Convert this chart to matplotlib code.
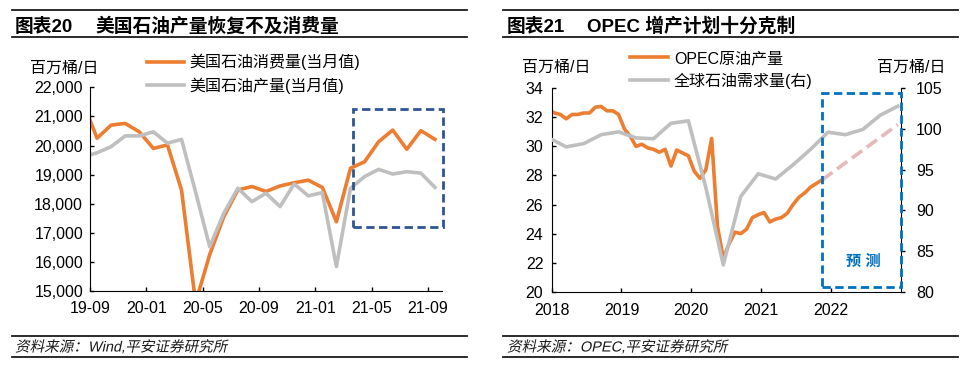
import matplotlib
matplotlib.use('Agg')
import matplotlib.pyplot as plt
import matplotlib.transforms as mtransforms
from matplotlib.lines import Line2D
from matplotlib.patches import Rectangle, PathPatch
from matplotlib.textpath import TextPath
from matplotlib.font_manager import FontProperties
from matplotlib.ticker import FuncFormatter
import numpy as np
import pandas as pd

plt.rcParams['font.family'] = ['Liberation Sans', 'Noto Sans CJK SC']

# ---- 图表20 数据 (月度, 2019-08 ~ 2021-09) ----
us_start, us_end = '2019-08', '2021-09'
us_consumption = [21500, 20250, 20700, 20760, 20470, 19900, 20020, 18470, 14600, 16250,
                  17550, 18470, 18590, 18420, 18610, 18720, 18810, 18560, 17380, 19220,
                  19440, 20130, 20530, 19870, 20510, 20210]
us_production = [19600, 19750, 19960, 20330, 20330, 20470, 20080, 20210, 18400, 16520,
                 17670, 18530, 18070, 18360, 17900, 18680, 18270, 18380, 15840, 18530,
                 18930, 19180, 19020, 19100, 19050, 18560]
us_tick_labels = ['19-09', '20-01', '20-05', '20-09', '21-01', '21-05', '21-09']

# ---- 图表21 数据 ----
opec_start, opec_end = '2017-12', '2021-11'
opec_prod = [32.5, 32.3, 32.2, 31.9, 32.2, 32.2, 32.3, 32.3, 32.7, 32.75, 32.45, 32.45, 32.2,
             31.2, 30.7, 30.0, 30.15, 29.9, 29.8, 29.6, 29.8, 28.65, 29.75, 29.55, 29.35,
             28.3, 27.8, 28.4, 30.55, 24.5, 22.3, 23.3, 24.1, 24.0, 24.3, 25.1, 25.3,
             25.45, 24.8, 25.0, 25.1, 25.4, 26.0, 26.5, 26.8, 27.2, 27.45, 27.7]
opec_fc_months = ['2021-11', '2022-12']
opec_fc = [27.7, 31.5]
demand_start, demand_end = '2017Q4', '2022Q4'
world_demand = [98.9, 97.8, 98.2, 99.3, 99.65, 98.9, 98.8, 100.7, 101.0, 92.8, 83.3,
                91.7, 94.5, 93.85, 95.6, 97.5, 99.6, 99.3, 99.95, 101.7, 102.8]
year_labels = ['2018', '2019', '2020', '2021', '2022']

ORANGE = '#ED7D31'
GRAY = '#BFBFBF'
PINK = '#E6B9B8'
W, H = 970, 366


def fx(px):
    return px / W


def fy(py):
    return 1 - py / H


def mpos(p, y0):
    # 月中位置, 以 y0 年1月初为 0
    return (p.year - y0) * 12 + p.month - 1 + 0.5


def slanted_text(fig, x_px, base_px, s, size_pt):
    # 中文字体没有斜体, 用剪切变换画成斜体
    prop = FontProperties(family=['Liberation Sans', 'Noto Sans CJK SC'])
    path = TextPath((0, 0), s, size=size_pt * fig.dpi / 72, prop=prop)
    tr = mtransforms.Affine2D().skew_deg(12, 0).translate(x_px, H - base_px)
    fig.add_artist(PathPatch(path, transform=tr, fc='#1a1a1a', ec='none', lw=0))


fig = plt.figure(figsize=(9.7, 3.66), dpi=100)

# ================= 左图 =================
ax1 = fig.add_axes([fx(90), fy(291), fx(442) - fx(90), fy(87.3) - fy(291)])
us_x = np.arange(len(us_consumption)) - 0.5  # 2019-09 -> 0.5
ax1.plot(us_x, us_consumption, color=ORANGE, lw=2.6, label='美国石油消费量(当月值)')
ax1.plot(us_x, us_production, color=GRAY, lw=2.6, label='美国石油产量(当月值)')
ax1.set_xlim(0, 25)
ax1.set_ylim(15000, 22000)
ax1.set_yticks(range(15000, 22001, 1000))
ax1.yaxis.set_major_formatter(FuncFormatter(lambda v, _: f'{v:,.0f}'))
ax1.set_xticks(range(0, 25, 4))
ax1.set_xticklabels(us_tick_labels)
off = mtransforms.ScaledTranslation(4 / 100, 0, fig.dpi_scale_trans)
for lbl in ax1.get_xticklabels():
    lbl.set_transform(lbl.get_transform() + off)
for s in ['top', 'right']:
    ax1.spines[s].set_visible(False)
ax1.tick_params(direction='in', length=3, width=1, labelsize=11.5, pad=5)
ax1.tick_params(axis='x', pad=7)
ax1.add_patch(Rectangle((18.7, 17200), 25.07 - 18.7, 21250 - 17200, fill=False,
                        ec='#2E5590', lw=2, ls=(0, (3, 1.6)), clip_on=False, zorder=5))
ax1.legend(loc='upper left', bbox_to_anchor=(fx(147), fy(54)), bbox_transform=fig.transFigure,
           frameon=False, fontsize=11.5, borderpad=0, borderaxespad=0, handlelength=2.3,
           handletextpad=0.35, labelspacing=0.45)
fig.text(fx(30), fy(68), '百万桶/日', fontsize=11.5, va='center', ha='left')

# ================= 右图 =================
ax2 = fig.add_axes([fx(551.7), fy(291.7), fx(900.7) - fx(551.7), fy(88.3) - fy(291.7)])
ax3 = ax2.twinx()
opec_x = [mpos(p, 2018) for p in pd.period_range(opec_start, opec_end, freq='M')]
fc_x = [mpos(pd.Period(m, freq='M'), 2018) for m in opec_fc_months]
dem_x = [mpos(q.asfreq('M', 'end'), 2018) for q in pd.period_range(demand_start, demand_end, freq='Q')]

l1, = ax2.plot(opec_x, opec_prod, color=ORANGE, lw=2.6, label='OPEC原油产量')
ax2.plot(fc_x, opec_fc, color=PINK, lw=2.6, dashes=(3.5, 1.6))
l2, = ax3.plot(dem_x, world_demand, color=GRAY, lw=2.6, label='全球石油需求量(右)')

ax2.set_xlim(0, 60)
ax2.set_ylim(20, 34)
ax2.set_yticks(range(20, 35, 2))
ax2.set_xticks(range(0, 60, 12))
ax2.set_xticklabels(year_labels)
off2 = mtransforms.ScaledTranslation(2 / 100, 0, fig.dpi_scale_trans)
for lbl in ax2.get_xticklabels():
    lbl.set_transform(lbl.get_transform() + off2)
ax3.set_ylim(80, 105)
ax3.set_yticks(range(80, 106, 5))
for s in ['top', 'right']:
    ax2.spines[s].set_visible(False)
for s in ['top', 'left', 'bottom']:
    ax3.spines[s].set_visible(False)
ax2.tick_params(direction='in', length=3, width=1, labelsize=11.5, pad=6)
ax2.tick_params(axis='x', pad=8)
ax3.tick_params(direction='out', length=3, width=1, labelsize=11.5, pad=8)

ax3.add_patch(Rectangle((46.4, 20.3), 13.6, 13.4, transform=ax2.transData, fill=False,
                        ec='#0070C0', lw=2, ls=(0, (3, 1.6)), clip_on=False, zorder=5))
ax3.text(53.6, 22.07, '预 测', transform=ax2.transData, color='#0070C0', fontsize=11,
         fontweight='bold', ha='center', va='center')
ax3.legend(handles=[l1, l2], loc='upper left', bbox_to_anchor=(fx(630), fy(51)),
           bbox_transform=fig.transFigure, frameon=False, fontsize=11.5, borderpad=0,
           borderaxespad=0, handlelength=2.4, handletextpad=0.35, labelspacing=0.4)
fig.text(fx(522), fy(67), '百万桶/日', fontsize=11.5, va='center', ha='left')
fig.text(fx(877), fy(67), '百万桶/日', fontsize=11.5, va='center', ha='left')

# ================= 标题与来源 =================
for x0, x1 in [(12, 467), (503, 958)]:
    for yy in [10, 37, 335.7, 357.3]:
        fig.add_artist(Line2D([fx(x0), fx(x1)], [fy(yy), fy(yy)], transform=fig.transFigure,
                              color='#1a1a1a', lw=1.3))
fig.text(fx(15), fy(26.5), '图表20', fontsize=13.5, fontweight='bold', va='center')
fig.text(fx(95), fy(26.5), '美国石油产量恢复不及消费量', fontsize=13.5, fontweight='bold', va='center')
fig.text(fx(507), fy(26.5), '图表21', fontsize=13.5, fontweight='bold', va='center')
fig.text(fx(587), fy(26.5), 'OPEC 增产计划十分克制', fontsize=13.5, fontweight='bold', va='center')
slanted_text(fig, 15, 351.5, '资料来源：Wind,平安证券研究所', 10.5)
slanted_text(fig, 507, 351.5, '资料来源：OPEC,平安证券研究所', 10.5)

fig.savefig('out.png', dpi=100)
